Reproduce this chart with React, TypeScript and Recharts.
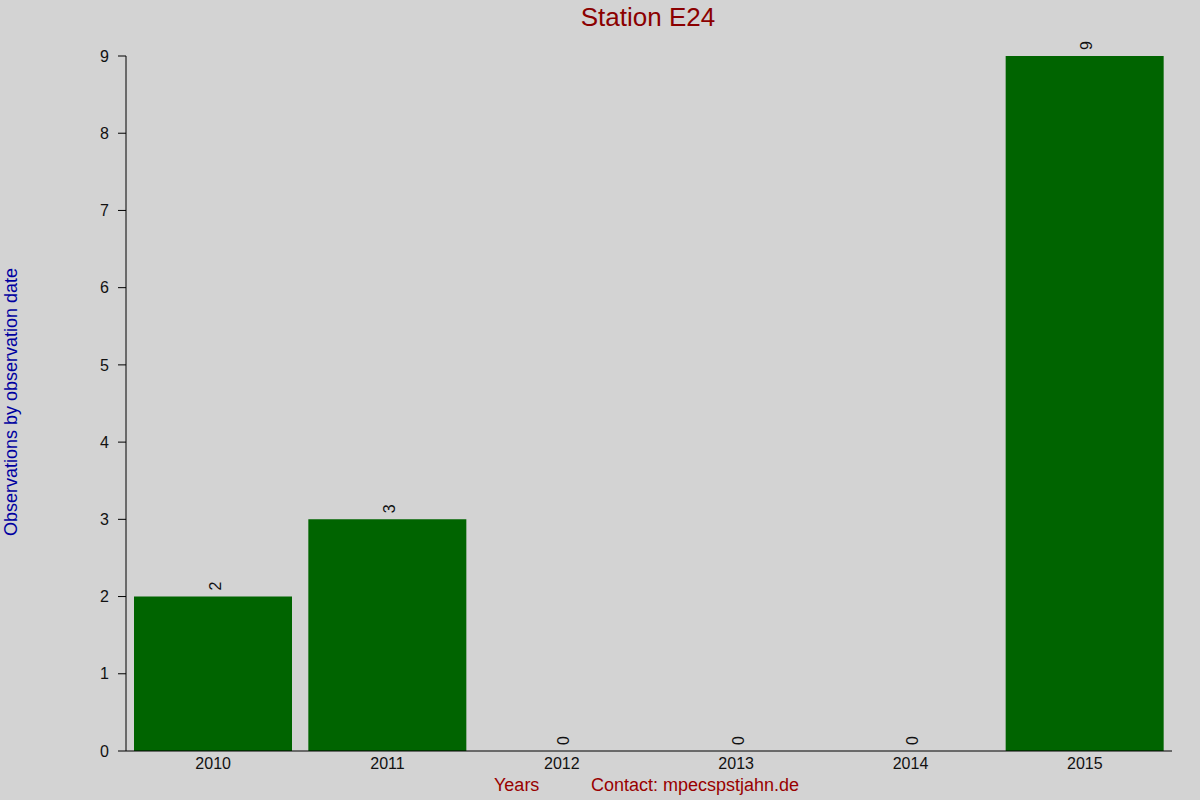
import React from 'react';
import { ComposedChart, Bar, Line, XAxis, YAxis, LabelList } from 'recharts';

const years = ['2010', '2011', '2012', '2013', '2014', '2015'];
const observations = [2, 3, 0, 0, 0, 9];
const yTicks = [0, 1, 2, 3, 4, 5, 6, 7, 8, 9];

const data = years.map((year, i) => ({ year, count: observations[i] }));

const FONT = '"Liberation Sans", Arial, sans-serif';

// value labels, rotated like the original
const RotatedLabel = (props: any) => {
  const { x, y, value } = props;
  const cx = x + 2;
  const ty = y - 6;
  return (
    <text
      x={cx}
      y={ty}
      transform={`rotate(-90, ${cx}, ${ty})`}
      textAnchor="start"
      dominantBaseline="central"
      fontSize={16}
      fontFamily={FONT}
      fill="#111"
    >
      {value}
    </text>
  );
};

// tiny marks along the top of the plot
const TopDot = (props: any) => <rect x={props.x} y={props.y - 1} width={1} height={1} fill="#000" />;

const App: React.FC = () => {
  return (
    <div style={{ position: 'absolute', left: 0, top: 0, width: 1200, height: 800, background: '#d3d3d3', fontFamily: FONT }}>
      <ComposedChart
        width={1200}
        height={800}
        data={data}
        margin={{ top: 56, right: 28, left: 0, bottom: 0 }}
        barCategoryGap={8}
      >
        <XAxis
          dataKey="year"
          height={49}
          tickLine={false}
          tickSize={0}
          tickMargin={7}
          axisLine={{ stroke: '#000' }}
          tick={{ fontSize: 16, fill: '#111', fontFamily: FONT }}
        />
        <XAxis
          xAxisId="top"
          dataKey="year"
          orientation="top"
          height={0}
          axisLine={false}
          tickLine={false}
          tickSize={0}
          tickMargin={0}
          tick={TopDot}
        />
        <YAxis
          width={126}
          domain={[0, 9]}
          ticks={yTicks}
          interval={0}
          tickSize={8}
          tickMargin={9}
          axisLine={{ stroke: '#000' }}
          tickLine={{ stroke: '#000' }}
          tick={{ fontSize: 16, fill: '#111', fontFamily: FONT }}
        />
        <Bar dataKey="count" fill="#006400" isAnimationActive={false} />
        <Line dataKey="count" stroke="none" dot={false} activeDot={false} isAnimationActive={false}>
          <LabelList dataKey="count" content={RotatedLabel} />
        </Line>
      </ComposedChart>
      <div style={{ position: 'absolute', left: 0, width: 1200, top: 2, textAlign: 'center', paddingLeft: 96, boxSizing: 'border-box', fontSize: 26, color: '#8b0000' }}>
        Station E24
      </div>
      <div
        style={{
          position: 'absolute',
          left: 11,
          top: 402,
          transform: 'translate(-50%, -50%) rotate(-90deg)',
          whiteSpace: 'nowrap',
          fontSize: 18,
          color: '#0000a0',
        }}
      >
        Observations by observation date
      </div>
      <div style={{ position: 'absolute', left: 494, top: 775, fontSize: 18, color: '#990000', whiteSpace: 'nowrap' }}>Years</div>
      <div style={{ position: 'absolute', left: 591, top: 775, fontSize: 18, color: '#990000', whiteSpace: 'nowrap' }}>
        Contact: mpecspstjahn.de
      </div>
    </div>
  );
};

export default App;
